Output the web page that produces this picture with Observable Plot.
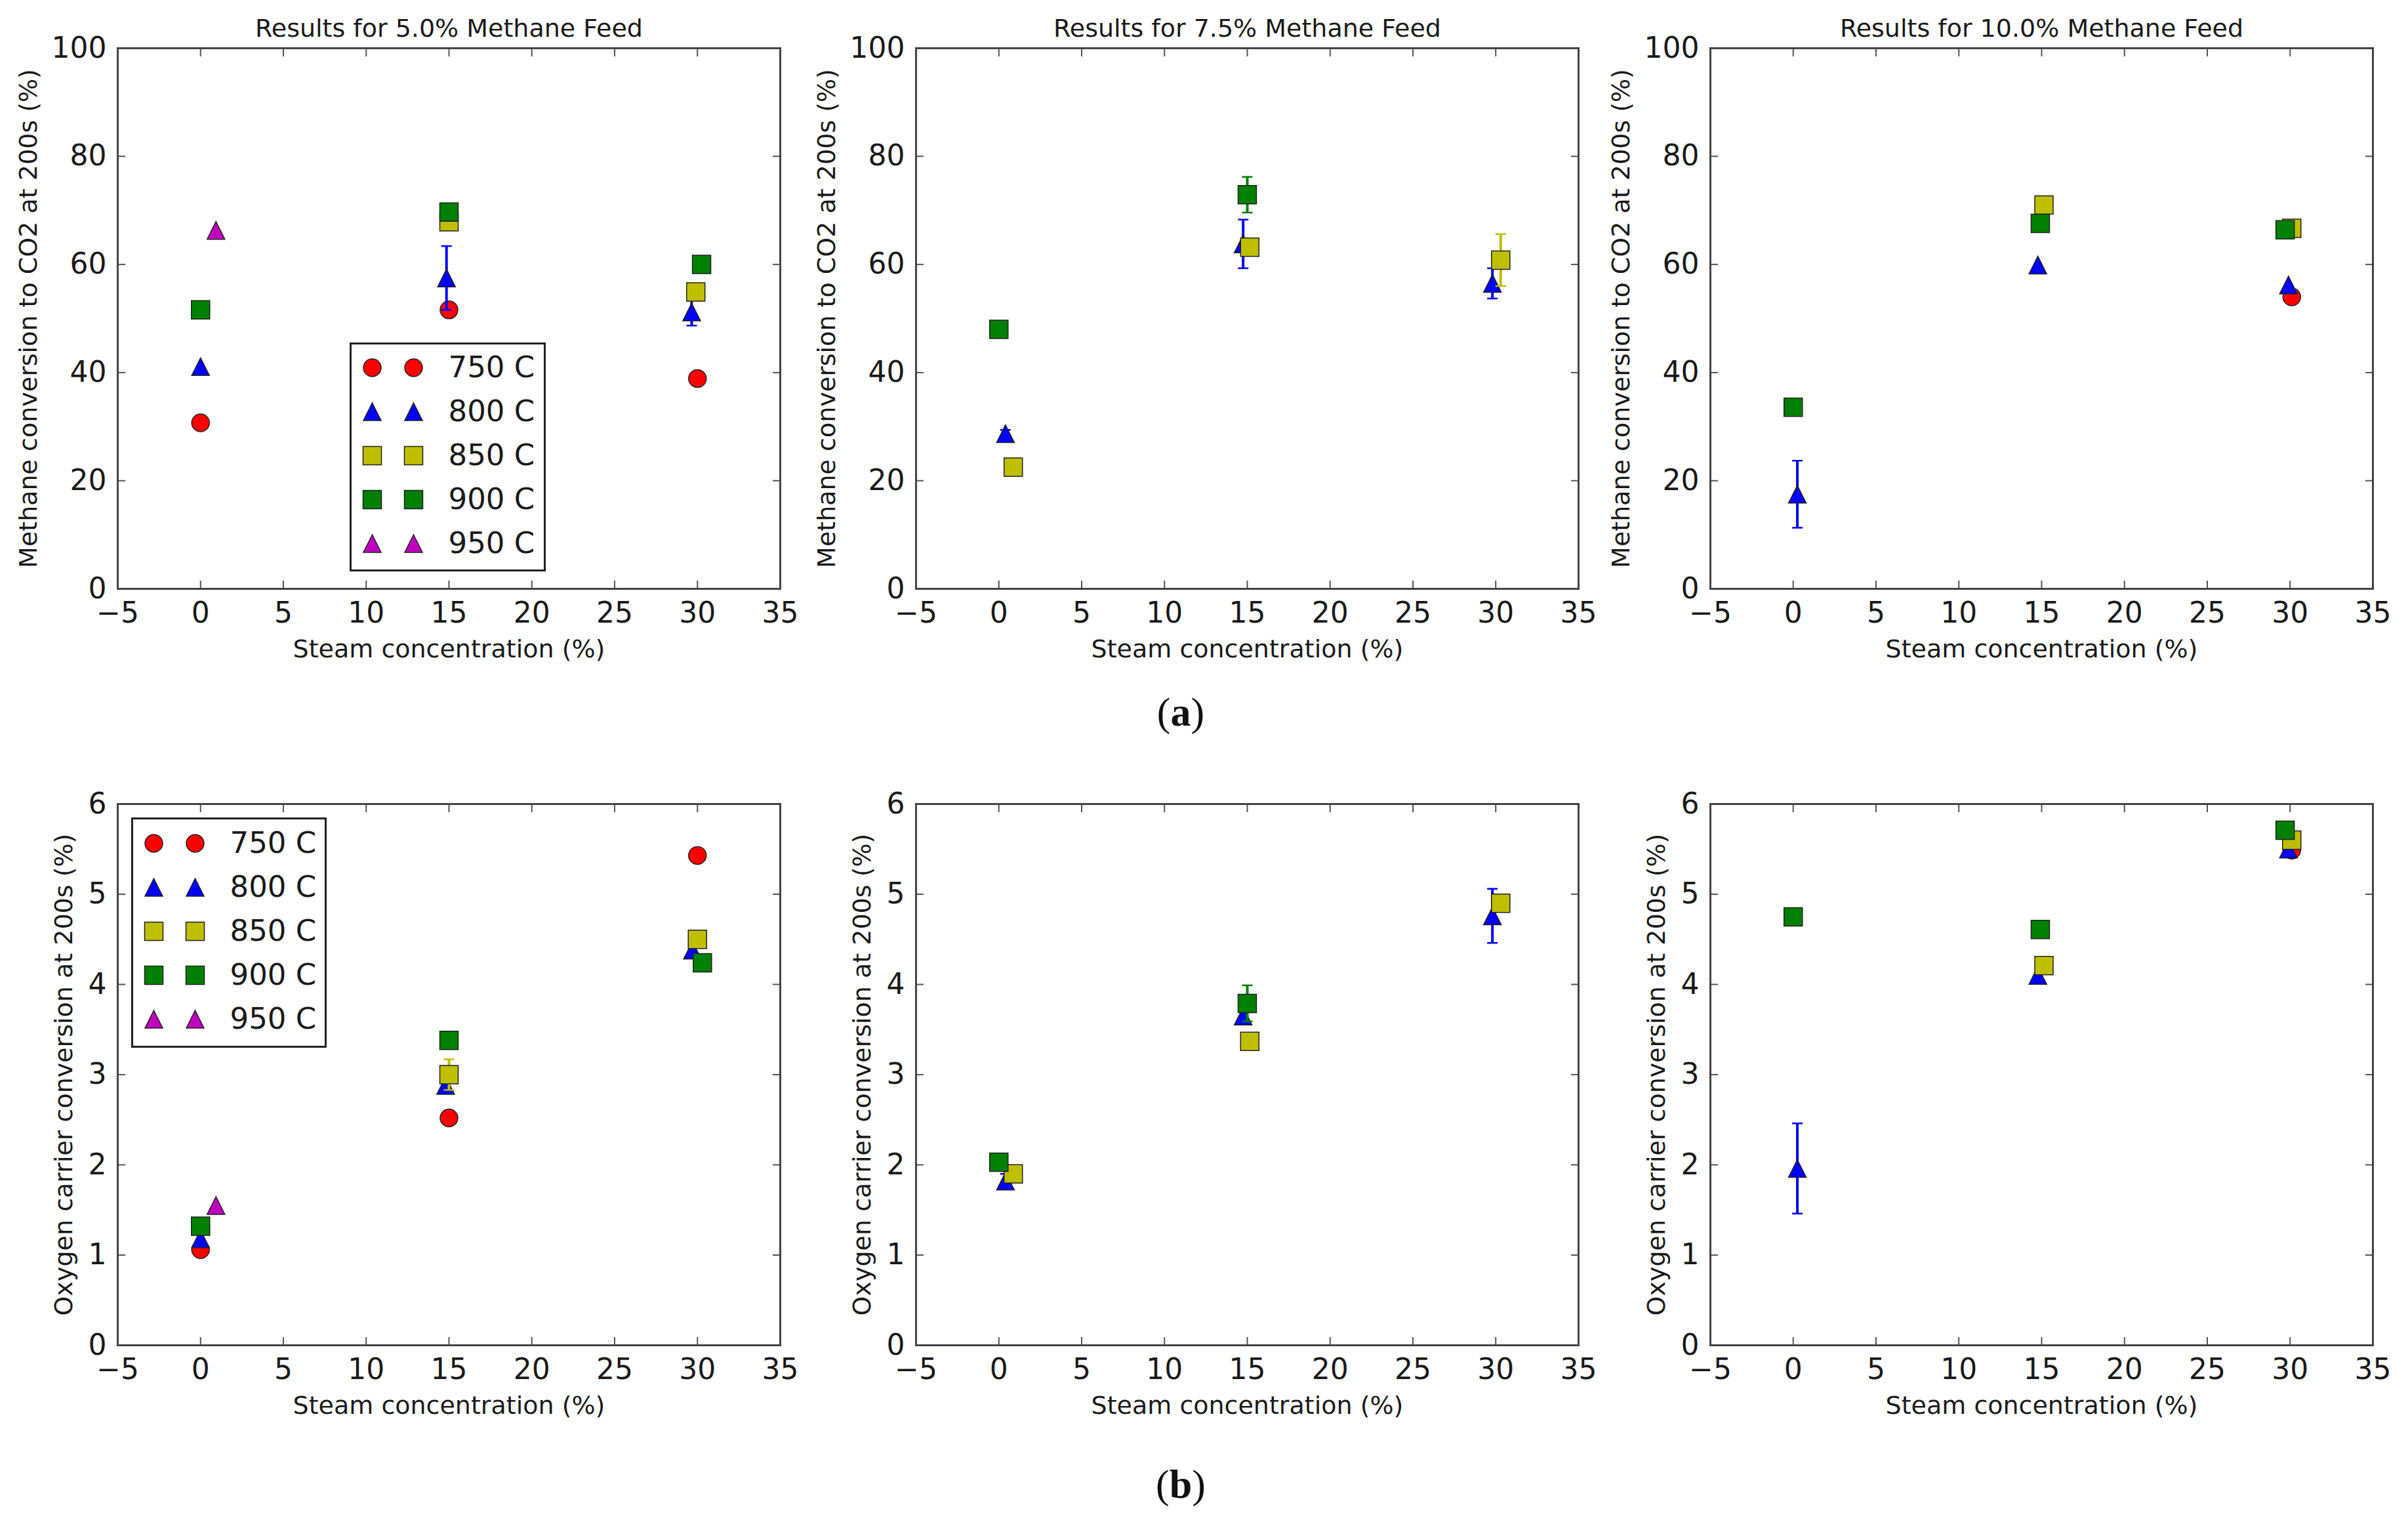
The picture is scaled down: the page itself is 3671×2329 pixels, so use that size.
<!DOCTYPE html>
<html><head><meta charset="utf-8">
<script src="https://cdn.jsdelivr.net/npm/d3@7"></script>
<script src="https://cdn.jsdelivr.net/npm/@observablehq/plot@0.6"></script>
<style>
html,body{margin:0;padding:0;background:#fff;}
#root{position:relative;width:3671px;height:2329px;background:#fff;overflow:hidden;}
.panel{position:absolute;}
.cap{position:absolute;font-family:"Liberation Serif";font-size:62px;color:#111;transform:translate(-50%,-50%);white-space:nowrap;}
</style></head><body><div id="root"></div>
<script>
// ---------- data ----------
const temps = ["750 C", "800 C", "850 C", "900 C", "950 C"];
const colors = ["#ff0000", "#0000ff", "#bfbf00", "#008000", "#bf00bf"];
const xTicks = [-5, 0, 5, 10, 15, 20, 25, 30, 35];
const yTicksMethane = [0, 20, 40, 60, 80, 100];
const yTicksOxygen = [0, 1, 2, 3, 4, 5, 6];
const titles = ["Results for 5.0% Methane Feed", "Results for 7.5% Methane Feed", "Results for 10.0% Methane Feed"];
const xLabel = "Steam concentration (%)";
const yLabelMethane = "Methane conversion to CO2 at 200s (%)";
const yLabelOxygen = "Oxygen carrier conversion at 200s (%)";

// rows: [temperature, steam %, value, error]
const methane5 = [
  ["750 C", 0, 30.7, 0], ["750 C", 15, 51.6, 0], ["750 C", 30, 38.9, 0],
  ["800 C", 0, 41.1, 0], ["800 C", 14.85, 57.5, 5.9], ["800 C", 29.65, 51.2, 2.5],
  ["850 C", 15, 67.9, 0], ["850 C", 29.9, 54.9, 0],
  ["900 C", 0, 51.6, 0], ["900 C", 15, 69.7, 0], ["900 C", 30.25, 60.0, 0],
  ["950 C", 0.93, 66.3, 0]
];
const methane75 = [
  ["800 C", 0.4, 28.7, 0.7], ["800 C", 14.75, 63.8, 4.5], ["800 C", 29.8, 56.5, 2.8],
  ["850 C", 0.87, 22.5, 0], ["850 C", 15.15, 63.2, 0], ["850 C", 30.3, 60.8, 4.8],
  ["900 C", 0, 48.0, 0], ["900 C", 15.0, 72.9, 3.3]
];
const methane10 = [
  ["750 C", 30.1, 54.0, 0],
  ["800 C", 0.25, 17.5, 6.2], ["800 C", 14.77, 59.9, 0], ["800 C", 29.9, 56.2, 0],
  ["850 C", 15.14, 71.0, 0], ["850 C", 30.1, 66.7, 0],
  ["900 C", 0, 33.6, 0], ["900 C", 14.92, 67.6, 0], ["900 C", 29.7, 66.4, 0]
];
const oxygen5 = [
  ["750 C", 0, 1.06, 0], ["750 C", 15, 2.52, 0], ["750 C", 30, 5.43, 0],
  ["800 C", 0, 1.18, 0], ["800 C", 14.8, 2.88, 0], ["800 C", 29.7, 4.38, 0],
  ["850 C", 15, 3.0, 0.17], ["850 C", 30, 4.5, 0],
  ["900 C", 0, 1.32, 0], ["900 C", 15, 3.38, 0], ["900 C", 30.3, 4.24, 0],
  ["950 C", 0.93, 1.55, 0]
];
const oxygen75 = [
  ["800 C", 0.4, 1.82, 0.08], ["800 C", 14.75, 3.65, 0], ["800 C", 29.8, 4.76, 0.3],
  ["850 C", 0.87, 1.9, 0], ["850 C", 15.15, 3.37, 0], ["850 C", 30.3, 4.9, 0],
  ["900 C", 0, 2.03, 0], ["900 C", 15.0, 3.79, 0.2]
];
const oxygen10 = [
  ["750 C", 30.1, 5.49, 0],
  ["800 C", 0.25, 1.96, 0.5], ["800 C", 14.77, 4.1, 0], ["800 C", 29.9, 5.5, 0],
  ["850 C", 15.14, 4.21, 0], ["850 C", 30.1, 5.6, 0],
  ["900 C", 0, 4.75, 0], ["900 C", 14.92, 4.61, 0], ["900 C", 29.7, 5.71, 0]
];

// ---------- symbols (matplotlib-like) ----------
const half = (size) => Math.sqrt(size / Math.PI);
const squareSym = {draw(c, s) { const h = half(s); c.moveTo(-h, -h); c.lineTo(h, -h); c.lineTo(h, h); c.lineTo(-h, h); c.closePath(); }};
const triSym = {draw(c, s) { const h = half(s); c.moveTo(0, -h); c.lineTo(h, h); c.lineTo(-h, h); c.closePath(); }};
const capSym = {draw(c, s) { const h = half(s); c.moveTo(-h, 0); c.lineTo(h, 0); }};
const syms = [d3.symbolCircle, triSym, squareSym, squareSym, triSym];
const radii = [13.5, 13.5, 14, 14, 13.5];

const FONT = "DejaVu Sans";
const INK = "#1a1a1a";
const fmtInt = d3.format("d");

function panel(rows, o) {
  const ml = 170, mr = 40, mt = 60, mb = 130, W = 1010;
  const H = o.bottom - o.top;
  const data = rows.map(([t, x, y, e]) => ({t, x, y, e}));
  const marks = [
    Plot.axisX(xTicks, {anchor: "bottom", tickSize: -12, tickPadding: 32, strokeWidth: 2, stroke: "#555", fill: INK, fontSize: 44, label: null}),
    Plot.axisX(xTicks, {anchor: "top", tickSize: -12, strokeWidth: 2, stroke: "#555", tickFormat: () => "", label: null}),
    Plot.axisY(o.yTicks, {anchor: "left", tickSize: -12, tickPadding: 29, strokeWidth: 2, stroke: "#555", fill: INK, fontSize: 44, tickFormat: fmtInt, label: null}),
    Plot.axisY(o.yTicks, {anchor: "right", tickSize: -12, strokeWidth: 2, stroke: "#555", tickFormat: () => "", label: null}),
    Plot.frame({stroke: "#444", strokeWidth: 3})
  ];
  temps.forEach((t, i) => {
    const s = data.filter(d => d.t === t);
    const se = s.filter(d => d.e > 0);
    if (se.length) {
      marks.push(Plot.ruleX(se, {x: "x", y1: d => d.y - d.e, y2: d => d.y + d.e, stroke: colors[i], strokeWidth: 4}));
      marks.push(Plot.dot(se, {x: "x", y: d => d.y + d.e, symbol: capSym, r: 8, stroke: colors[i], strokeWidth: 2.5, fill: "none"}));
      marks.push(Plot.dot(se, {x: "x", y: d => d.y - d.e, symbol: capSym, r: 8, stroke: colors[i], strokeWidth: 2.5, fill: "none"}));
    }
    if (s.length) marks.push(Plot.dot(s, {x: "x", y: "y", symbol: syms[i], r: radii[i], fill: colors[i], stroke: "#222", strokeWidth: 1.5}));
  });
  if (o.title) marks.push(Plot.text([o.title], {text: d => d, frameAnchor: "top", lineAnchor: "middle", dy: -30, fontSize: 38, fill: INK}));
  marks.push(Plot.text([xLabel], {text: d => d, frameAnchor: "bottom", lineAnchor: "middle", dy: 92, fontSize: 38, fill: INK}));
  marks.push(Plot.text([o.ylabel], {text: d => d, frameAnchor: "left", textAnchor: "middle", lineAnchor: "middle", dx: o.ylabelDx, rotate: -90, fontSize: 38, fill: INK}));
  const svg = Plot.plot({
    width: W + ml + mr, height: H + mt + mb,
    marginLeft: ml, marginRight: mr, marginTop: mt, marginBottom: mb,
    x: {domain: [-5, 35]},
    y: {domain: o.yDomain},
    style: {fontFamily: FONT, color: INK, background: "transparent", overflow: "visible"},
    marks
  });
  svg.classList.add("panel");
  svg.style.left = (o.left - ml) + "px";
  svg.style.top = (o.top - mt) + "px";
  document.getElementById("root").appendChild(svg);
}

function legend(left, top, w, h, rowRange) {
  const pts = temps.flatMap(t => [0, 1].map(k => ({t, k})));
  const marks = [Plot.frame({fill: "white", stroke: "#222", strokeWidth: 3})];
  temps.forEach((t, i) => {
    marks.push(Plot.dot(pts.filter(p => p.t === t), {x: "k", y: "t", symbol: syms[i], r: radii[i], fill: colors[i], stroke: "#222", strokeWidth: 1.5}));
  });
  marks.push(Plot.text(temps, {y: d => d, text: d => d, frameAnchor: "left", dx: 149, textAnchor: "start", lineAnchor: "middle", fontSize: 45, fill: INK}));
  const svg = Plot.plot({
    width: w, height: h, margin: 0,
    x: {type: "point", domain: [0, 1], range: [33, 96], padding: 0, axis: null},
    y: {type: "point", domain: temps, range: rowRange, padding: 0, axis: null},
    style: {fontFamily: FONT, color: INK, background: "transparent", overflow: "visible"},
    marks
  });
  svg.classList.add("panel");
  svg.style.left = left + "px";
  svg.style.top = top + "px";
  document.getElementById("root").appendChild(svg);
}

const lefts = [179, 1396, 2607];
const methaneSets = [methane5, methane75, methane10];
const oxygenSets = [oxygen5, oxygen75, oxygen10];
methaneSets.forEach((rows, i) => panel(rows, {title: titles[i], ylabel: yLabelMethane, yDomain: [0, 100], yTicks: yTicksMethane, ylabelDx: -136, left: lefts[i], top: 73, bottom: 897}));
oxygenSets.forEach((rows, i) => panel(rows, {title: "", ylabel: yLabelOxygen, yDomain: [0, 6], yTicks: yTicksOxygen, ylabelDx: -82, left: lefts[i], top: 1225, bottom: 2050}));

legend(534, 523, 296, 346, [37, 305]);
legend(201, 1247, 295, 348, [38, 306]);

const root = document.getElementById("root");
[["a", 1085], ["b", 2262]].forEach(([l, y]) => {
  const d = document.createElement("div");
  d.className = "cap";
  d.style.left = "1800px";
  d.style.top = y + "px";
  d.innerHTML = "(<b>" + l + "</b>)";
  root.appendChild(d);
});
</script></body></html>
